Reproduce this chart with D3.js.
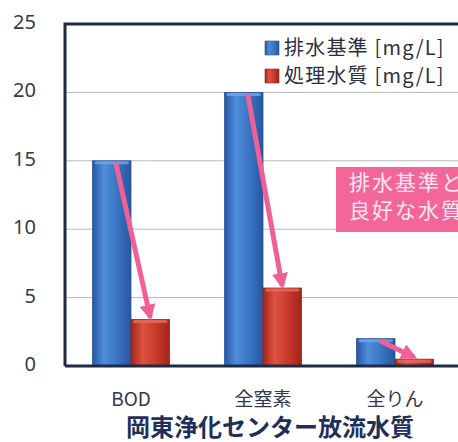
<!DOCTYPE html>
<html lang="ja">
<head>
<meta charset="utf-8">
<script src="https://cdn.jsdelivr.net/npm/d3@7"></script>
<style>
  html, body { margin: 0; padding: 0; background: #fff; }
  svg { display: block; font-family: "Noto Sans CJK JP", "Noto Sans", sans-serif; }
</style>
</head>
<body>
<script>
// Categories, series and ticks
const categories = ["BOD", "全窒素", "全りん"];
const seriesNames = ["排水基準 [mg/L]", "処理水質 [mg/L]"];
const standardValues = [15, 20, 2];      // 排水基準
const treatedValues = [3.4, 5.7, 0.5];   // 処理水質
const yTicks = [0, 5, 10, 15, 20, 25];
const chartTitle = "岡東浄化センター放流水質";
const noteLines = ["排水基準と", "良好な水質"];

const W = 458, H = 442;
const plot = { left: 65, top: 24, right: 461, bottom: 366 };

const svg = d3.select("body").append("svg")
  .attr("width", W).attr("height", H);

const defs = svg.append("defs");
function barGradient(id, edge, mid, light) {
  const g = defs.append("linearGradient").attr("id", id)
    .attr("x1", "0%").attr("x2", "100%").attr("y1", "0%").attr("y2", "0%");
  g.append("stop").attr("offset", "0%").attr("stop-color", edge);
  g.append("stop").attr("offset", "30%").attr("stop-color", light);
  g.append("stop").attr("offset", "65%").attr("stop-color", mid);
  g.append("stop").attr("offset", "100%").attr("stop-color", edge);
}
barGradient("gBlue", "#2857a0", "#3a73c2", "#4f8ddb");
barGradient("gRed", "#a32419", "#c8392b", "#dc5443");

const series = [
  { name: seriesNames[0], values: standardValues, fill: "url(#gBlue)", cap: "#6ea6e6", stroke: "#2a5596" },
  { name: seriesNames[1], values: treatedValues, fill: "url(#gRed)", cap: "#e46a5a", stroke: "#9c2418" }
];

const y = d3.scaleLinear().domain([0, 25]).range([plot.bottom, plot.top]);
const x = d3.scaleBand().domain(categories)
  .range([plot.left, plot.right]).paddingInner(0.417).paddingOuter(0.2085);
const xs = d3.scaleBand().domain(d3.range(series.length)).range([0, x.bandwidth()]).padding(0);

// Gridlines
svg.append("g").selectAll("line").data(yTicks.filter(t => t > 0 && t < 25)).join("line")
  .attr("x1", plot.left).attr("x2", W)
  .attr("y1", d => y(d)).attr("y2", d => y(d))
  .attr("stroke", "#b8b8b8").attr("stroke-width", 1);

// Y axis tick labels
const yAxis = d3.axisLeft(y).tickValues(yTicks).tickSize(0).tickPadding(0);
const yg = svg.append("g").attr("transform", "translate(36,0)").call(yAxis);
yg.select(".domain").remove();
yg.selectAll("text")
  .attr("font-size", 20).attr("fill", "#333a4c")
  .attr("dy", "0.32em").attr("y", -2)
  .style("font-family", "'Noto Sans', sans-serif");

// Bars
const groups = svg.append("g").selectAll("g").data(categories).join("g")
  .attr("transform", d => `translate(${x(d)},0)`);

series.forEach((s, si) => {
  groups.append("rect")
    .attr("x", xs(si))
    .attr("y", (d, i) => y(s.values[i]))
    .attr("width", xs.bandwidth())
    .attr("height", (d, i) => y(0) - y(s.values[i]))
    .attr("fill", s.fill)
    .attr("stroke", s.stroke).attr("stroke-width", 0.8);
  groups.append("rect")
    .attr("x", xs(si) + 2)
    .attr("y", (d, i) => y(s.values[i]) + 0.5)
    .attr("width", xs.bandwidth() - 4)
    .attr("height", 3)
    .attr("rx", 2)
    .attr("fill", s.cap).attr("opacity", 0.85);
});

// Frame: left and top edges, then the baseline
const frame = svg.append("g").attr("stroke", "#1f2a44").attr("stroke-width", 3).attr("fill", "none");
frame.append("path").attr("d", `M${plot.left},${plot.bottom}V${plot.top}H${W}`);
frame.append("line").attr("x1", plot.left).attr("x2", W)
  .attr("y1", y(0)).attr("y2", y(0));

// Arrows from each standard to its treated value
const arrowColor = "#f15f97";
defs.append("marker").attr("id", "head")
  .attr("viewBox", "0 0 10 10").attr("refX", 8).attr("refY", 5)
  .attr("markerWidth", 3.2).attr("markerHeight", 3.2)
  .attr("orient", "auto")
  .append("path").attr("d", "M0,0L10,5L0,10z").attr("fill", arrowColor);

svg.append("g").selectAll("line").data(categories).join("line")
  .attr("x1", (d, i) => x(d) + xs(0) + xs.bandwidth() / 2 + 4)
  .attr("y1", (d, i) => y(standardValues[i]) + 2)
  .attr("x2", (d, i) => x(d) + xs(1) + xs.bandwidth() / 2)
  .attr("y2", (d, i) => y(treatedValues[i]) - 2)
  .attr("stroke", arrowColor).attr("stroke-width", 5)
  .attr("marker-end", "url(#head)");

// Category labels
const xAxis = d3.axisBottom(x).tickSize(0).tickPadding(0);
const xg = svg.append("g").attr("transform", `translate(0,${plot.bottom + 26})`).call(xAxis);
xg.select(".domain").remove();
xg.selectAll("text").attr("font-size", 19).attr("fill", "#333a4c")
  .style("font-family", "'Noto Sans CJK JP', sans-serif");

// Legend
const legend = svg.append("g").attr("transform", "translate(265,40)");
series.forEach((s, i) => {
  const row = legend.append("g").attr("transform", `translate(0,${i * 28})`);
  row.append("rect").attr("width", 14).attr("height", 14).attr("y", 1)
    .attr("fill", s.fill).attr("stroke", s.stroke).attr("stroke-width", 0.6);
  row.append("text").attr("x", 19).attr("y", 8).attr("dy", "0.35em")
    .attr("font-size", 20).attr("letter-spacing", 1.2)
    .attr("fill", "#2b3040").text(s.name);
});

// Note box
const note = svg.append("g");
note.append("rect").attr("x", 336).attr("y", 167).attr("width", 140).attr("height", 65)
  .attr("fill", "#f2669a");
note.selectAll("text").data(noteLines).join("text")
  .attr("x", 349).attr("y", (d, i) => 190 + i * 28)
  .attr("font-size", 21).attr("letter-spacing", 2)
  .attr("fill", "#fde8f0").text(d => d);

// Title
svg.append("text").attr("x", 270).attr("y", 436)
  .attr("text-anchor", "middle").attr("font-size", 24).attr("font-weight", "bold")
  .attr("fill", "#1f2f5c").text(chartTitle);
</script>
</body>
</html>
